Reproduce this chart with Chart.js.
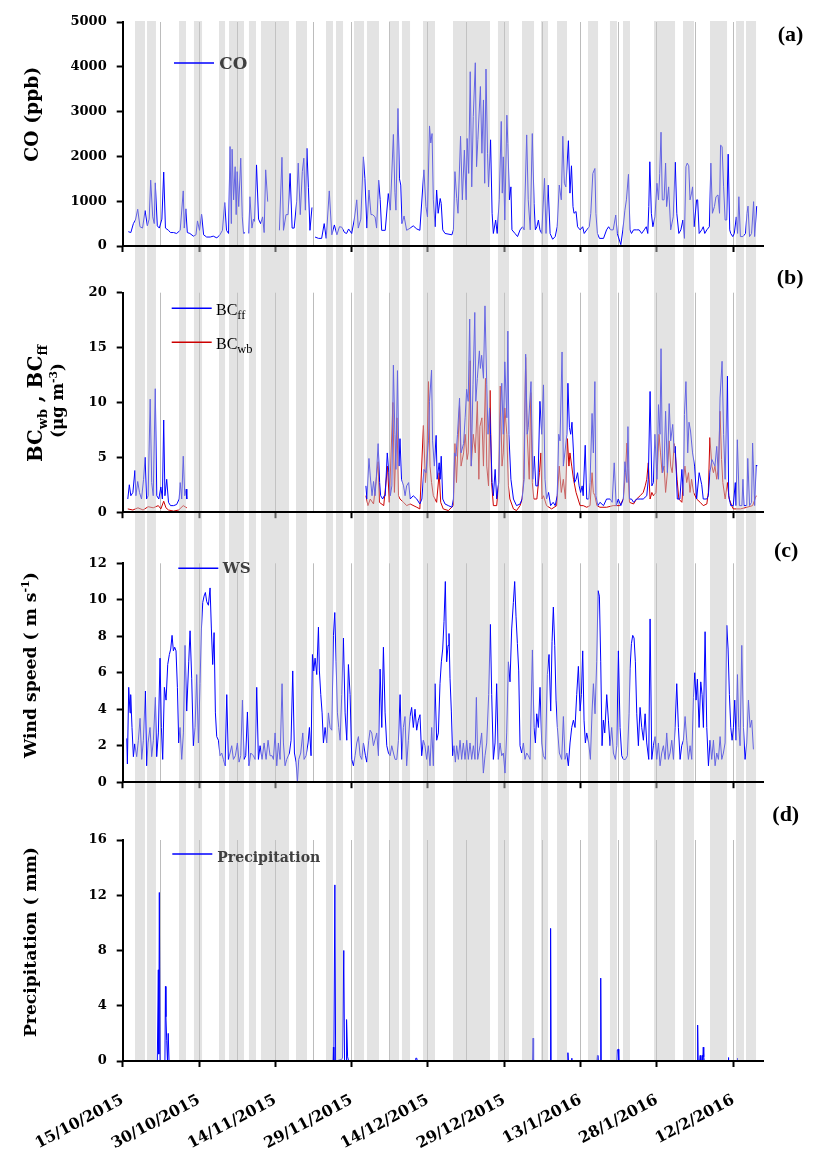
<!DOCTYPE html>
<html><head><meta charset="utf-8">
<script src="https://cdn.jsdelivr.net/npm/chart.js@4.4.0/dist/chart.umd.min.js"></script>
<style>
html,body{margin:0;padding:0;background:#fff;}
#wrap{position:relative;width:823px;height:1149px;overflow:hidden;background:#fff;}
#wrap canvas{position:absolute;left:0;}
</style></head><body>
<div id="wrap">
<canvas id="cA" width="823" height="270" style="top:0px;width:823px;height:270px"></canvas>
<canvas id="cB" width="823" height="260" style="top:270px;width:823px;height:260px"></canvas>
<canvas id="cC" width="823" height="270" style="top:530px;width:823px;height:270px"></canvas>
<canvas id="cD" width="823" height="349" style="top:800px;width:823px;height:349px"></canvas>
</div>
<script>
// ---------- DATA (x = days since 15/10/2015) ----------
const X_TICK_LABELS = ['15/10/2015','30/10/2015','14/11/2015','29/11/2015','14/12/2015','29/12/2015','13/1/2016','28/1/2016','12/2/2016'];

const SHADED_DAYS = [[2.42,4.38],[4.78,6.54],[11.07,12.44],[14.01,15.59],[18.93,20.11],[20.89,23.84],[24.82,26.2],[27.18,32.68],[34.06,36.22],[39.96,41.33],[41.92,43.3],[45.46,47.43],[48.01,50.37],[52.34,54.3],[54.89,56.47],[59.02,61.38],[64.92,72.19],[73.76,75.92],[78.48,80.84],[82.21,83.59],[85.36,87.32],[91.45,93.42],[95.77,97.15],[98.33,99.7],[104.42,108.55],[110.12,112.28],[115.43,118.77],[120.54,122.11],[122.5,124.47]];

const CO_PPB = [[1.1,320],[1.6,300],[2.1,500],[2.5,580],[2.95,820],[3.4,430],[3.9,400],[4.4,790],[4.85,450],[5.2,600],[5.5,1470],[5.9,650],[6.2,500],[6.4,1410],[6.8,450],[7.2,400],[7.7,600],[8.06,1650],[8.4,400],[9.0,350],[9.4,300],[10.0,300],[10.6,280],[11.3,350],[11.9,1230],[12.1,400],[12.4,830],[12.7,300],[13.2,280],[13.9,220],[14.4,250],[14.7,560],[15.1,350],[15.5,710],[15.9,250],[16.5,200],[17.2,200],[17.8,220],[18.5,180],[19.1,250],[19.6,350],[20.05,970],[20.4,350],[20.8,280],[21.1,2220],[21.35,500],[21.5,2160],[21.8,1030],[22.1,1770],[22.3,700],[22.5,1660],[22.8,880],[23.2,1960],[23.5,650],[23.75,280],[24.05,300],[24.5,null],[24.8,280],[25.0,1100],[25.4,400],[25.7,600],[25.9,550],[26.3,1810],[26.7,600],[27.1,500],[27.5,650],[27.8,300],[28.1,1700],[28.5,990],[28.7,null],[30.8,350],[31.3,1980],[31.6,350],[32.1,700],[32.5,700],[32.9,1620],[33.3,400],[33.7,400],[34.2,1000],[34.5,1850],[34.9,700],[35.3,1660],[35.6,1960],[35.9,800],[36.2,2180],[36.5,1300],[36.8,350],[37.2,860],[37.5,null],[37.8,200],[38.5,170],[39.1,170],[39.6,500],[40.0,170],[40.6,1230],[41.1,250],[41.6,470],[42.1,250],[42.6,430],[43.05,420],[43.6,300],[44.0,280],[44.4,380],[45.0,280],[45.5,580],[46.0,1030],[46.3,400],[46.8,600],[47.3,1990],[47.6,1510],[48.0,400],[48.4,1250],[48.8,700],[49.1,700],[49.6,650],[49.9,400],[50.3,1470],[50.6,1040],[50.9,350],[51.6,350],[52.2,1170],[52.6,800],[53.2,2490],[53.5,1200],[53.7,800],[54.1,3070],[54.4,1500],[54.65,1360],[54.9,500],[55.3,670],[55.8,350],[56.5,400],[57.1,450],[57.8,380],[58.4,350],[59.2,1700],[59.6,880],[59.9,650],[60.3,2680],[60.55,2300],[60.8,2510],[61.05,1030],[61.4,430],[61.7,1250],[62.0,730],[62.4,1060],[62.6,950],[62.9,360],[63.35,280],[64.7,250],[65.0,360],[65.3,1660],[65.65,1060],[65.9,730],[66.4,2450],[66.75,1030],[67.15,2140],[67.5,1030],[67.7,2400],[68.0,1620],[68.3,3890],[68.6,1320],[68.9,2890],[69.3,4090],[69.55,1770],[69.8,2370],[70.3,3560],[70.6,2070],[70.9,3260],[71.15,1400],[71.4,3950],[71.7,2070],[71.9,1320],[72.3,2370],[72.6,730],[72.85,280],[73.3,580],[73.6,280],[74.0,1030],[74.4,2780],[74.6,1180],[74.8,1990],[75.1,580],[75.5,2920],[75.7,2290],[76.0,1030],[76.3,1320],[76.5,360],[77.1,280],[77.6,210],[78.1,360],[78.6,430],[78.9,360],[79.4,2480],[79.7,1030],[80.1,360],[80.5,2510],[80.85,950],[81.1,360],[81.4,430],[81.7,580],[82.0,360],[82.35,280],[82.9,1510],[83.2,280],[83.6,1360],[84.0,280],[84.5,150],[85.0,210],[85.4,430],[85.8,1360],[86.2,1030],[86.5,2450],[86.8,1400],[87.1,1320],[87.6,2350],[87.9,1180],[88.2,1790],[88.5,880],[88.7,730],[89.1,770],[89.4,430],[89.9,360],[90.4,430],[90.7,280],[91.2,360],[91.7,430],[92.0,730],[92.4,1620],[92.8,1730],[93.0,730],[93.3,280],[93.7,170],[94.5,170],[95.1,360],[95.5,430],[95.9,360],[96.4,360],[96.9,690],[97.2,280],[97.9,30],[98.3,360],[98.7,800],[99.0,1030],[99.4,1600],[99.7,360],[100.0,280],[100.4,360],[101.0,360],[101.5,360],[102.0,280],[102.5,360],[102.9,430],[103.2,280],[103.4,880],[103.6,1880],[103.9,730],[104.2,430],[104.6,650],[105.0,1400],[105.3,1030],[105.55,1620],[105.8,2540],[106.05,1030],[106.4,1030],[106.7,1850],[106.9,880],[107.3,1320],[107.7,360],[108.2,650],[108.6,1870],[108.9,730],[109.3,280],[109.7,360],[110.1,580],[110.4,170],[110.7,1770],[110.95,1850],[111.25,1790],[111.5,1030],[111.8,1180],[112.0,1320],[112.3,430],[112.8,1030],[113.0,1030],[113.3,280],[113.8,360],[114.1,430],[114.4,280],[114.8,360],[115.3,430],[115.6,1850],[115.9,730],[116.3,880],[116.6,1100],[117.0,1140],[117.3,730],[117.5,2250],[117.8,2220],[118.1,1320],[118.4,580],[118.7,580],[119.0,2050],[119.3,360],[119.5,280],[119.9,210],[120.2,280],[120.6,650],[120.85,280],[121.1,1100],[121.4,210],[121.9,210],[122.4,280],[122.7,730],[122.9,890],[123.2,210],[123.6,280],[124.0,990],[124.2,210],[124.6,890]];

const BC_FF = [[1.0,1.2],[1.3,2.5],[1.6,1.5],[2.0,1.8],[2.4,3.8],[2.6,1.5],[2.95,2.8],[3.3,1.8],[3.7,1.2],[4.1,3.0],[4.4,5.0],[4.7,1.2],[5.0,1.5],[5.4,10.3],[5.7,2.7],[6.0,1.5],[6.4,11.25],[6.7,1.5],[7.1,1.2],[7.5,2.3],[7.8,1.2],[8.06,8.4],[8.3,1.5],[8.65,3.0],[9.0,0.9],[9.4,0.6],[10.0,0.6],[10.6,0.7],[11.1,1.2],[11.3,2.7],[11.6,1.2],[11.9,5.1],[12.2,1.5],[12.45,2.1],[12.6,1.2],[13.0,null],
[47.8,2.4],[48.0,1.2],[48.4,4.9],[48.65,3.3],[49.0,1.5],[49.3,2.8],[49.6,1.5],[49.8,2.8],[50.2,6.25],[50.5,2.7],[50.7,1.5],[51.1,1.2],[51.4,1.5],[51.6,1.5],[52.0,5.4],[52.3,3.6],[52.6,1.5],[52.9,2.4],[53.2,13.4],[53.5,7.1],[53.7,3.9],[54.0,12.9],[54.3,4.2],[54.5,6.7],[54.8,3.0],[55.2,2.4],[55.5,1.5],[55.8,2.4],[56.2,2.7],[56.5,1.2],[57.1,1.5],[57.8,1.2],[58.4,0.75],[58.8,1.2],[59.2,3.9],[59.6,3.6],[60.1,6.5],[60.3,10.1],[60.7,12.95],[60.9,6.5],[61.25,4.2],[61.6,7.0],[61.8,3.0],[62.2,4.5],[62.4,3.0],[62.6,5.1],[62.9,1.2],[63.35,0.75],[64.0,0.6],[64.7,0.45],[65.0,1.2],[65.2,5.4],[65.5,5.1],[65.8,7.1],[66.2,10.4],[66.5,5.4],[67.0,6.25],[67.3,8.6],[67.6,11.2],[67.9,10.1],[68.2,17.6],[68.5,4.2],[68.85,11.6],[69.2,18.2],[69.4,10.1],[69.7,12.2],[70.1,14.7],[70.3,13.1],[70.55,14.3],[70.9,12.2],[71.2,18.8],[71.55,11.6],[71.8,7.1],[72.1,9.5],[72.3,7.1],[72.6,2.7],[72.85,1.5],[73.2,3.9],[73.5,1.2],[73.9,2.7],[74.2,8.6],[74.5,11.75],[74.8,7.1],[75.1,13.7],[75.5,8.6],[75.7,16.5],[75.9,7.1],[76.3,3.0],[76.8,1.2],[77.4,0.6],[78.1,0.75],[78.5,1.2],[78.9,3.0],[79.2,14.4],[79.5,7.1],[79.7,7.7],[80.25,11.9],[80.6,3.0],[80.9,5.1],[81.2,2.4],[81.6,2.4],[82.0,10.1],[82.35,7.1],[82.7,11.6],[83.0,3.0],[83.3,1.2],[83.7,1.8],[84.1,0.6],[84.6,0.9],[85.0,0.6],[85.4,1.5],[85.7,7.1],[85.95,6.5],[86.35,14.6],[86.6,4.2],[86.9,5.4],[87.3,7.1],[87.5,11.75],[87.8,7.7],[88.05,7.1],[88.3,8.2],[88.6,5.4],[88.8,2.7],[89.1,3.0],[89.4,3.6],[89.7,2.4],[90.0,1.8],[90.3,2.4],[90.5,1.5],[90.9,6.1],[91.2,1.2],[91.6,1.2],[91.85,2.7],[92.25,9.0],[92.5,5.4],[92.8,11.9],[93.0,1.5],[93.4,0.6],[93.8,0.9],[94.5,0.6],[95.1,1.2],[95.8,1.2],[96.2,0.9],[96.6,4.5],[97.0,0.6],[97.4,1.2],[97.9,0.6],[98.4,1.2],[98.7,4.6],[99.1,2.7],[99.3,7.8],[99.6,1.2],[100.0,1.2],[100.4,0.9],[101.0,1.2],[101.7,1.2],[102.3,1.2],[103.0,1.5],[103.3,3.0],[103.65,11.0],[104.0,2.4],[104.3,2.7],[104.6,7.1],[105.0,3.0],[105.3,9.8],[105.6,7.1],[105.8,14.9],[106.1,3.6],[106.4,4.2],[106.7,9.2],[107.05,3.6],[107.4,9.9],[107.7,6.5],[108.1,8.0],[108.4,5.4],[108.6,6.0],[109.0,1.2],[109.5,1.2],[109.9,3.9],[110.2,1.5],[110.4,8.9],[110.7,11.9],[111.05,5.4],[111.3,8.2],[111.6,7.4],[112.0,5.4],[112.4,4.2],[112.8,1.2],[113.3,3.6],[113.8,2.5],[114.1,1.2],[114.8,1.2],[115.1,1.5],[115.4,3.6],[115.8,4.8],[116.1,4.5],[116.4,4.2],[116.75,6.0],[117.1,3.0],[117.4,10.4],[117.8,13.75],[118.1,7.1],[118.4,3.0],[118.85,12.4],[119.1,1.5],[119.5,0.6],[120.0,0.6],[120.4,2.7],[120.55,0.6],[120.8,6.6],[121.2,0.6],[121.7,0.6],[121.9,3.0],[122.1,0.6],[122.65,0.6],[122.85,4.9],[123.2,0.6],[123.6,0.9],[123.8,6.3],[124.2,0.6],[124.5,4.3],[124.6,4.2]];

const BC_WB = [[1.0,0.3],[2.0,0.2],[3.0,0.4],[4.0,0.2],[5.0,0.5],[6.0,0.4],[7.0,0.6],[7.5,0.3],[8.06,1.0],[8.5,0.4],[9.0,0.2],[10.0,0.1],[11.0,0.2],[11.9,0.6],[12.6,0.4],[13.0,null],
[47.8,1.5],[48.2,0.6],[48.65,1.2],[49.3,0.75],[50.2,4.6],[50.45,0.9],[51.3,0.6],[52.05,4.2],[52.4,0.9],[53.1,10.0],[53.4,1.8],[53.9,8.6],[54.2,1.5],[54.5,1.2],[55.2,0.9],[55.8,0.6],[56.5,0.75],[57.8,0.45],[58.4,0.3],[59.1,7.9],[59.5,2.7],[59.75,4.2],[60.1,11.9],[60.4,4.2],[60.7,2.7],[61.05,1.5],[61.7,0.9],[62.2,3.6],[62.5,0.9],[63.0,0.3],[64.0,0.15],[65.0,0.6],[65.3,6.25],[65.6,2.7],[66.2,9.7],[66.5,4.2],[67.0,5.4],[67.3,7.1],[67.7,4.8],[67.9,5.4],[68.3,13.8],[68.5,4.2],[68.9,7.1],[69.3,5.4],[69.7,10.1],[70.0,3.0],[70.2,7.8],[70.6,8.6],[70.9,4.2],[71.3,12.2],[71.55,4.2],[71.9,2.4],[72.2,11.1],[72.5,2.7],[72.85,0.6],[73.5,0.6],[73.9,2.7],[74.2,11.5],[74.55,4.2],[74.8,5.4],[75.1,9.5],[75.5,7.1],[75.8,2.4],[76.1,1.2],[76.8,0.3],[77.4,0.15],[78.1,0.6],[78.5,1.2],[78.8,3.0],[79.2,14.1],[79.5,7.1],[79.9,3.0],[80.2,10.9],[80.5,2.7],[80.8,1.2],[81.4,1.2],[81.9,3.6],[82.2,5.4],[82.4,1.2],[82.7,1.5],[83.3,0.6],[84.3,0.3],[85.3,0.6],[85.8,4.2],[86.2,1.8],[86.6,3.0],[87.0,1.2],[87.4,6.7],[87.7,4.2],[87.9,5.4],[88.25,4.2],[88.6,3.0],[89.1,1.8],[89.9,0.6],[90.5,0.6],[91.2,0.45],[91.85,0.6],[92.25,3.6],[92.5,1.8],[92.8,1.5],[93.2,0.6],[93.8,0.45],[95.1,0.45],[96.4,0.6],[97.7,0.6],[98.4,1.2],[98.8,3.6],[99.1,6.3],[99.3,4.0],[99.6,0.9],[100.4,0.75],[101.0,1.2],[101.7,1.5],[102.3,1.8],[102.7,2.4],[103.0,3.0],[103.3,4.5],[103.65,1.2],[104.0,1.8],[104.3,1.5],[104.8,1.8],[105.1,4.2],[105.4,7.1],[105.7,5.4],[106.0,3.6],[106.4,4.2],[106.7,1.8],[107.05,3.6],[107.4,6.5],[107.7,4.2],[108.0,3.6],[108.4,6.25],[108.6,5.4],[108.95,3.0],[109.3,1.2],[109.9,0.9],[110.2,3.0],[110.5,4.2],[110.85,2.7],[111.2,3.6],[111.5,1.8],[111.8,3.0],[112.2,1.8],[112.8,1.2],[113.5,0.9],[114.1,0.6],[114.8,0.75],[115.1,1.8],[115.4,6.8],[115.8,4.2],[116.1,3.6],[116.4,4.2],[116.75,3.0],[117.1,4.2],[117.4,9.2],[117.7,4.8],[117.95,2.7],[118.4,1.2],[118.85,2.7],[119.2,1.2],[119.7,0.6],[120.0,0.3],[121.4,0.3],[122.7,0.45],[123.8,0.6],[124.5,1.5]];

const WIND_SPEED = [[0.8,2.4],[0.92,1.0],[1.18,5.2],[1.44,3.8],[1.57,4.8],[1.83,3.0],[2.1,1.4],[2.36,2.1],[2.75,1.4],[3.08,2.3],[3.41,3.5],[3.74,1.25],[4.06,2.3],[4.46,5.0],[4.72,0.9],[4.98,2.15],[5.37,3.0],[5.7,1.4],[6.03,2.3],[6.42,4.65],[6.68,1.4],[7.01,2.7],[7.34,6.8],[7.6,3.0],[7.86,1.25],[8.19,5.2],[8.52,4.5],[8.85,6.45],[9.17,7.0],[9.44,7.3],[9.7,8.05],[9.96,7.2],[10.22,7.4],[10.48,7.2],[10.75,5.2],[11.01,2.15],[11.27,3.0],[11.6,1.25],[11.93,2.7],[12.25,7.5],[12.58,3.9],[12.98,6.6],[13.24,8.3],[13.56,5.7],[13.89,2.0],[14.22,3.0],[14.55,5.9],[14.88,2.15],[15.2,5.4],[15.47,8.4],[15.73,9.85],[15.99,10.2],[16.25,10.4],[16.51,9.9],[16.84,9.7],[17.17,10.65],[17.43,8.4],[17.69,6.45],[17.96,8.2],[18.22,3.8],[18.48,2.5],[18.81,2.3],[19.13,1.45],[19.46,1.6],[19.79,1.25],[20.12,0.9],[20.45,4.8],[20.77,1.25],[21.1,1.6],[21.43,2.0],[21.76,1.25],[22.15,1.45],[22.54,2.15],[22.87,1.1],[23.2,1.45],[23.53,4.5],[23.85,1.25],[24.18,1.45],[24.51,3.85],[24.84,0.9],[25.16,1.6],[25.69,1.45],[26.02,1.25],[26.34,5.2],[26.67,1.25],[27.0,2.0],[27.39,1.25],[27.79,2.15],[28.18,1.25],[28.57,2.3],[28.96,1.45],[29.36,1.45],[29.62,1.25],[29.95,2.7],[30.28,0.9],[30.6,2.15],[30.93,1.25],[31.32,5.4],[31.59,2.15],[31.91,0.9],[32.24,1.25],[32.77,1.6],[33.09,2.3],[33.42,6.1],[33.75,1.6],[34.08,1.1],[34.34,0],[34.6,1.25],[34.99,1.6],[35.39,2.7],[35.65,1.25],[36.04,1.45],[36.43,2.15],[36.7,3.0],[37.02,1.45],[37.29,7.0],[37.55,6.1],[37.81,6.8],[38.14,5.9],[38.47,8.5],[38.66,6.1],[38.93,4.8],[39.19,3.8],[39.45,2.15],[39.78,3.0],[40.1,2.15],[40.43,3.8],[40.76,3.0],[41.09,2.85],[41.42,8.05],[41.68,9.3],[41.94,6.6],[42.2,3.8],[42.46,3.0],[42.73,2.3],[43.05,4.8],[43.38,7.9],[43.71,3.8],[44.04,2.3],[44.36,6.45],[44.69,4.8],[45.02,1.25],[45.35,0.9],[45.67,1.45],[46.0,2.15],[46.33,2.5],[46.66,1.45],[46.98,1.25],[47.31,2.15],[47.71,1.45],[47.97,1.1],[48.36,2.3],[48.62,2.85],[48.95,2.7],[49.28,2.0],[49.93,2.7],[50.26,1.45],[50.59,6.2],[50.92,3.0],[51.24,7.4],[51.57,3.8],[51.9,2.0],[52.23,1.6],[52.56,1.45],[52.88,2.0],[53.21,1.6],[53.54,1.25],[53.87,1.25],[54.19,2.3],[54.52,4.8],[54.85,1.25],[55.16,3.0],[55.48,3.6],[55.81,0.9],[56.14,2.3],[56.47,3.6],[56.79,4.1],[57.12,3.0],[57.45,4.0],[57.78,2.85],[58.1,3.4],[58.43,3.7],[58.76,1.45],[59.09,2.3],[59.41,2.0],[59.74,1.25],[60.07,2.0],[60.4,0.9],[60.73,3.0],[61.05,0.9],[61.38,5.4],[61.71,2.3],[62.04,2.7],[62.36,5.4],[62.63,6.6],[62.89,7.3],[63.15,8.8],[63.41,11.0],[63.67,6.6],[63.94,7.5],[64.13,8.15],[64.33,5.7],[64.59,3.9],[64.85,1.45],[65.12,2.0],[65.38,1.1],[65.64,2.0],[65.97,1.25],[66.3,2.3],[66.62,1.25],[66.95,2.15],[67.28,1.25],[67.61,2.3],[67.93,1.25],[68.26,2.15],[68.59,1.25],[68.92,2.0],[69.24,1.25],[69.51,4.65],[69.77,1.25],[70.23,2.0],[70.55,2.7],[70.88,0.5],[71.21,1.45],[71.54,2.15],[71.93,4.8],[72.26,8.65],[72.52,4.8],[72.85,1.25],[73.18,2.15],[73.5,5.4],[73.83,1.25],[74.16,2.15],[74.49,1.45],[74.81,1.6],[75.14,0.5],[75.47,2.7],[75.8,6.6],[76.12,5.5],[76.45,8.4],[76.78,9.85],[77.04,11.0],[77.3,9.1],[77.57,7.6],[77.83,6.1],[78.09,2.0],[78.42,1.6],[78.75,2.15],[79.07,1.25],[79.4,1.6],[79.73,1.45],[80.06,1.25],[80.52,7.25],[80.84,3.0],[81.11,2.15],[81.37,3.75],[81.7,3.0],[82.02,5.2],[82.35,2.15],[82.68,1.45],[83.07,1.25],[83.46,5.9],[83.79,7.0],[84.12,3.9],[84.38,7.7],[84.64,9.6],[84.91,7.5],[85.17,4.5],[85.43,3.0],[85.82,1.6],[86.28,1.25],[86.61,3.6],[86.94,1.25],[87.27,1.6],[87.59,0.9],[87.92,2.15],[88.25,3.0],[88.58,3.4],[88.9,3.0],[89.23,4.8],[89.56,6.35],[89.89,3.9],[90.15,4.8],[90.41,7.2],[90.67,3.4],[90.93,2.15],[91.2,2.7],[91.59,2.15],[91.92,1.25],[92.25,3.9],[92.51,5.4],[92.83,3.75],[93.16,6.6],[93.43,10.5],[93.69,10.2],[93.95,6.6],[94.21,2.0],[94.47,3.4],[94.74,2.7],[95.13,4.8],[95.46,3.4],[95.78,2.0],[96.11,3.0],[96.44,1.6],[96.83,1.25],[97.1,2.0],[97.42,7.2],[97.75,3.0],[98.08,1.45],[98.41,1.25],[98.8,1.25],[99.19,1.45],[99.52,3.75],[99.72,6.25],[99.98,7.6],[100.24,8.05],[100.5,7.9],[100.76,6.6],[101.03,3.75],[101.35,2.0],[101.68,4.1],[102.01,3.0],[102.34,2.3],[102.67,3.75],[102.99,2.15],[103.39,1.25],[103.65,8.95],[103.98,1.25],[104.3,2.0],[104.63,2.5],[104.96,1.25],[105.29,2.15],[105.61,0.9],[105.94,1.6],[106.27,2.0],[106.6,1.25],[106.92,2.7],[107.25,1.25],[107.58,1.6],[107.91,2.3],[108.24,1.25],[108.56,3.0],[108.89,5.4],[109.22,3.0],[109.55,1.25],[109.87,2.0],[110.2,2.3],[110.53,3.6],[110.86,2.3],[111.18,1.25],[111.51,2.0],[111.84,1.25],[112.17,4.65],[112.43,6.0],[112.69,4.5],[112.95,5.65],[113.28,3.0],[113.61,5.5],[113.87,4.8],[114.13,3.0],[114.46,8.25],[114.79,3.0],[115.12,0.9],[115.44,2.3],[115.77,1.25],[116.1,2.3],[116.43,0.9],[116.75,1.6],[117.08,1.25],[117.41,2.5],[117.74,1.25],[118.06,1.6],[118.39,2.15],[118.72,8.6],[118.98,7.3],[119.24,4.8],[119.51,3.0],[119.77,2.3],[120.03,3.0],[120.29,4.5],[120.56,2.3],[120.82,5.9],[121.08,3.0],[121.34,2.0],[121.67,7.5],[122.0,3.0],[122.32,1.25],[122.65,2.15],[122.98,4.5],[123.31,3.0],[123.63,3.4],[123.96,1.8]];

const PRECIP_MM = [[1.0,0],[6.8,0],[7.0,6.6],[7.1,0.5],[7.2,12.2],[7.34,0],[8.3,0],[8.4,5.4],[8.5,3.2],[8.65,1.5],[8.8,0],[8.95,2.0],[9.1,0],[41.3,0],[41.4,1.0],[41.5,0],[41.7,12.75],[41.85,0],[42.9,0.1],[43.2,0.2],[43.45,8.0],[43.6,0],[43.9,0],[44.0,3.0],[44.2,0.3],[44.4,0],[57.5,0],[57.6,0.2],[57.8,0.2],[57.9,0],[80.55,0],[80.65,1.65],[80.75,0],[84.0,0],[84.1,9.6],[84.2,0],[87.4,0],[87.5,0.6],[87.6,0],[88.2,0],[88.25,0.2],[88.3,0],[93.2,0],[93.3,0.4],[93.4,0],[93.85,0],[93.95,6.0],[94.05,0],[97.1,0],[97.2,0.8],[97.4,0.85],[97.5,0],[112.9,0],[113.0,2.6],[113.1,0],[113.4,0],[113.5,0.4],[113.6,0],[113.8,0],[113.9,0.4],[114.0,0],[114.1,1.0],[114.2,0.3],[114.3,0],[119.0,0],[119.05,0.25],[119.1,0],[120.75,0],[120.8,0.2],[120.85,0],[124.0,0]];

// ---------- helpers ----------
const toXY = arr => arr.map(p => ({x: p[0], y: p[1]}));
const NUMFONT = 'DejaVu Serif';
const isMult = (v, m) => Math.abs(v / m - Math.round(v / m)) < 1e-6;

function richWidth(ctx, parts, base, fam, weight) {
  let w = 0;
  for (const p of parts) {
    ctx.font = `${weight} ${(base * (p.s || 1)).toFixed(2)}px "${fam}"`;
    w += ctx.measureText(p.t).width;
  }
  return w;
}
function drawRich(ctx, parts, x, y, o) {
  const fam = o.fam || NUMFONT, weight = o.weight || 'bold';
  let base = o.size || 18;
  if (o.target) { base = 20 * o.target / richWidth(ctx, parts, 20, fam, weight); }
  const total = richWidth(ctx, parts, base, fam, weight);
  ctx.save();
  ctx.translate(x, y);
  if (o.rotate) ctx.rotate(-Math.PI / 2);
  ctx.fillStyle = o.color || '#000';
  ctx.textAlign = 'left';
  ctx.textBaseline = 'alphabetic';
  let cx = o.align === 'center' ? -total / 2 : 0;
  for (const p of parts) {
    ctx.font = `${weight} ${(base * (p.s || 1)).toFixed(2)}px "${fam}"`;
    ctx.fillText(p.t, cx, (p.dy || 0) * base);
    cx += ctx.measureText(p.t).width;
  }
  ctx.restore();
}
function legendLine(ctx, x1, x2, y, color) {
  ctx.save(); ctx.strokeStyle = color; ctx.lineWidth = 1.5;
  ctx.beginPath(); ctx.moveTo(x1, y); ctx.lineTo(x2, y); ctx.stroke(); ctx.restore();
}
function panelLabel(ctx, t, x, y) {
  ctx.save(); ctx.font = 'bold 22px "Liberation Serif"'; ctx.fillStyle = '#000';
  ctx.textAlign = 'left'; ctx.textBaseline = 'middle'; ctx.fillText(t, x, y); ctx.restore();
}

function bandPlugin(top, bottom) {
  return {
    id: 'bands',
    afterDatasetsDraw(chart) {
      const xs = chart.scales.x, ctx = chart.ctx;
      ctx.save();
      ctx.fillStyle = 'rgba(200,200,200,0.5)';
      for (const b of SHADED_DAYS) {
        const x1 = xs.getPixelForValue(b[0]), x2 = xs.getPixelForValue(b[1]);
        ctx.fillRect(x1, top, x2 - x1, bottom - top);
      }
      ctx.restore();
    }
  };
}
function decoPlugin(offY, fn) {
  return { id: 'deco', afterDraw(chart) { const ctx = chart.ctx; ctx.save(); ctx.translate(0, -offY); fn(ctx); ctx.restore(); } };
}

function makePanel(id, p) {
  const ctx = document.getElementById(id);
  return new Chart(ctx, {
    type: 'line',
    data: { datasets: p.datasets.map(d => ({
      data: toXY(d.data), borderColor: d.color, borderWidth: 1, pointRadius: 0,
      tension: 0, spanGaps: false, fill: false
    })) },
    options: {
      responsive: false, animation: false, events: [],
      layout: { padding: { top: p.top, left: 0, right: 59.2, bottom: 0 } },
      plugins: { legend: { display: false }, tooltip: { enabled: false } },
      scales: {
        x: {
          type: 'linear', min: 0, max: 126,
          afterFit: s => { s.height = p.xh; },
          ticks: {
            stepSize: 7.5, includeBounds: false, autoSkip: false, display: !!p.labels,
            minRotation: 28, maxRotation: 28, padding: 24, color: '#000',
            font: { family: NUMFONT, weight: 'bold', size: 15.5 },
            callback: v => isMult(v, 15) ? X_TICK_LABELS[Math.round(v / 15)] : ''
          },
          grid: {
            color: c => (c.tick && c.tick.value > 0.01) ? '#bcbcbc' : 'rgba(0,0,0,0)',
            lineWidth: 1,
            tickColor: c => (c.tick && isMult(c.tick.value, 15)) ? '#000' : 'rgba(0,0,0,0)',
            tickLength: 6, tickWidth: 2
          },
          border: { color: '#000', width: 2, z: 1 }
        },
        y: {
          min: 0, max: p.max,
          afterFit: s => { s.width = 122.7; },
          ticks: { stepSize: p.step, color: '#000', padding: 10,
            font: { family: NUMFONT, weight: 'bold', size: 13 },
            callback: v => String(v) },
          grid: { drawOnChartArea: false, tickLength: 6, tickWidth: 2, tickColor: '#000' },
          border: { color: '#000', width: 2 }
        }
      }
    },
    plugins: [bandPlugin(p.bandTop, p.bandBottom), decoPlugin(p.offY, p.deco)]
  });
}

// ---------- panel (a) ----------
makePanel('cA', {
  top: 22, xh: 24, max: 5000, step: 1000, bandTop: 21, bandBottom: 270, offY: 0,
  datasets: [{ data: CO_PPB, color: '#0000ff' }],
  deco: ctx => {
    drawRich(ctx, [{t: 'CO (ppb)'}], 37.5, 114.2, {rotate: true, align: 'center', target: 95});
    legendLine(ctx, 174, 214, 63, '#0000ff');
    drawRich(ctx, [{t: 'CO'}], 219.3, 69, {target: 28, color: '#404040'});
    panelLabel(ctx, '(a)', 777.7, 35);
  }
});

// ---------- panel (b) ----------
makePanel('cB', {
  top: 22.7, xh: 13.3, max: 20, step: 5, bandTop: 0, bandBottom: 260, offY: 270,
  datasets: [{ data: BC_FF, color: '#0000ff' }, { data: BC_WB, color: '#cc0000' }],
  deco: ctx => {
    drawRich(ctx, [{t: 'BC'}, {t: 'wb', s: 0.65, dy: 0.26}, {t: ' , '}, {t: 'BC'}, {t: 'ff', s: 0.65, dy: 0.26}],
      41.5, 403.5, {rotate: true, align: 'center', target: 117});
    drawRich(ctx, [{t: '(\u03bcg m'}, {t: '-3', s: 0.65, dy: -0.38}, {t: ')'}],
      63, 400.5, {rotate: true, align: 'center', target: 75});
    legendLine(ctx, 171.7, 211.7, 308.3, '#0000ff');
    drawRich(ctx, [{t: 'BC'}, {t: 'ff', s: 0.78, dy: 0.27}], 216, 315, {fam: 'Liberation Serif', weight: 'normal', size: 16});
    legendLine(ctx, 171.7, 211.7, 342.3, '#cc0000');
    drawRich(ctx, [{t: 'BC'}, {t: 'wb', s: 0.78, dy: 0.27}], 216, 348.7, {fam: 'Liberation Serif', weight: 'normal', size: 16});
    panelLabel(ctx, '(b)', 776.7, 278);
  }
});

// ---------- panel (c) ----------
makePanel('cC', {
  top: 33.3, xh: 13.3, max: 12, step: 2, bandTop: 0, bandBottom: 270, offY: 530,
  datasets: [{ data: WIND_SPEED, color: '#0000ff' }],
  deco: ctx => {
    drawRich(ctx, [{t: 'Wind speed ( m s'}, {t: '-1', s: 0.65, dy: -0.38}, {t: ')'}],
      35.5, 665, {rotate: true, align: 'center', target: 186});
    legendLine(ctx, 178.3, 218.3, 568.3, '#0000ff');
    drawRich(ctx, [{t: 'WS'}], 222.7, 573.3, {target: 28, color: '#404040'});
    panelLabel(ctx, '(c)', 774, 551.7);
  }
});

// ---------- panel (d) ----------
makePanel('cD', {
  top: 40, xh: 88, max: 16, step: 4, bandTop: 0, bandBottom: 262, offY: 800, labels: true,
  datasets: [{ data: PRECIP_MM, color: '#0000ff' }],
  deco: ctx => {
    drawRich(ctx, [{t: 'Precipitation ( mm)'}], 35.5, 942, {rotate: true, align: 'center', target: 190});
    legendLine(ctx, 172.3, 212.3, 854, '#0000ff');
    drawRich(ctx, [{t: 'Precipitation'}], 217.3, 861.7, {target: 103, color: '#404040'});
    panelLabel(ctx, '(d)', 772.3, 815.5);
  }
});
</script>
</body></html>
